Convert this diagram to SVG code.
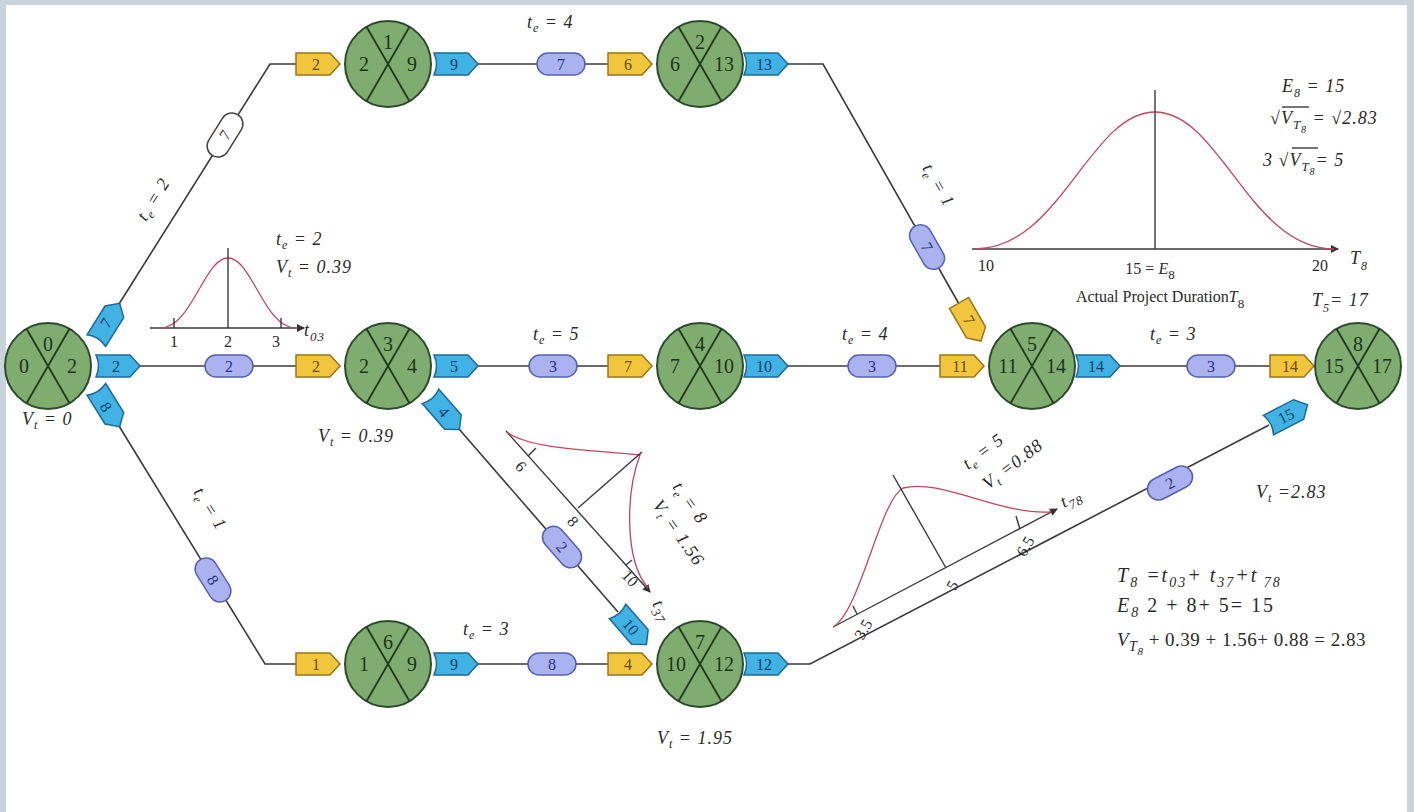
<svg xmlns="http://www.w3.org/2000/svg" xmlns:xlink="http://www.w3.org/1999/xlink" width="1414" height="812" viewBox="0 0 1414 812">
<defs>
<style>
.node circle{fill:#7fad6f;stroke:#2e4a2e;stroke-width:2}
.node line{stroke:#22381f;stroke-width:1.8}
.node text{font-family:"Liberation Serif",serif;font-size:20px;fill:#1d331c;text-anchor:middle}
.edge{fill:none;stroke:#3a3a3a;stroke-width:1.6}
.tagt{font-family:"Liberation Serif",serif;font-size:16px;text-anchor:middle;dominant-baseline:central}
.yt{fill:#6a4a00}.bt{fill:#0f3f6a}.pt{fill:#2a3080}
.lbl{font-family:"Liberation Serif",serif;font-size:18px;font-style:italic;fill:#2a2a2a;letter-spacing:1px}
.num{font-family:"Liberation Serif",serif;font-size:16px;fill:#2a2a2a;text-anchor:middle}
.curve{fill:none;stroke:#c0485a;stroke-width:1.3}
.axis{fill:none;stroke:#3a3a3a;stroke-width:1.4}
.eq{font-family:"Liberation Serif",serif;font-size:20px;font-style:italic;fill:#2a2a2a;letter-spacing:2px}
.eq2{font-family:"Liberation Serif",serif;font-size:19px;font-style:italic;fill:#2a2a2a;letter-spacing:0.5px}
</style>
<path id="ytag" d="M-22,-11 H12 L22,0 L12,11 H-22 Z" fill="#f1c63c" stroke="#9a7418" stroke-width="1.5"/>
<path id="btag" d="M-22,-11 H12 L22,0 L12,11 H-22 Q-17,0 -22,-11 Z" fill="#41b2e4" stroke="#1b6a9a" stroke-width="1.5"/>
<rect id="pill" x="-24" y="-11" width="48" height="22" rx="11" fill="#aab3ef" stroke="#5660b2" stroke-width="1.5"/>
<rect id="wpill" x="-24" y="-11" width="48" height="22" rx="11" fill="#ffffff" stroke="#444" stroke-width="1.5"/>
<marker id="arr" markerWidth="8" markerHeight="8" refX="7" refY="4" orient="auto" markerUnits="userSpaceOnUse"><path d="M0,0 L8,4 L0,8 Z" fill="#333"/></marker>
</defs>
<rect x="0" y="0" width="1414" height="812" fill="#c9d3db"/>
<rect x="6" y="5" width="1401" height="807" fill="#ffffff"/>

<g id="connectors">
<polyline class="edge" points="119,304 270,64 296,64"/>
<line class="edge" x1="140" y1="366" x2="296" y2="366"/>
<polyline class="edge" points="119,426 265,664 296,664"/>
<line class="edge" x1="478" y1="64" x2="608" y2="64"/>
<polyline class="edge" points="788,64 823,64 959,304"/>
<line class="edge" x1="478" y1="366" x2="608" y2="366"/>
<line class="edge" x1="788" y1="366" x2="940" y2="366"/>
<line class="edge" x1="1120" y1="366" x2="1270" y2="366"/>
<line class="edge" x1="459" y1="429" x2="618" y2="612"/>
<line class="edge" x1="478" y1="664" x2="608" y2="664"/>
<polyline class="edge" points="788,664 810,664 1269,425"/>

<!-- 0 -> 1 -->
<use href="#btag" transform="translate(108,322) rotate(-58)"/>
<text class="tagt bt" transform="translate(106,323) rotate(-58)">7</text>
<use href="#wpill" transform="translate(225,135) rotate(-58)"/>
<text class="tagt" fill="#444" transform="translate(225,135) rotate(-58)">7</text>
<use href="#ytag" transform="translate(318,64)"/>
<text class="tagt yt" x="316" y="64">2</text>
<!-- 0 -> 3 -->
<use href="#btag" transform="translate(118,366)"/>
<text class="tagt bt" x="116" y="366">2</text>
<use href="#pill" transform="translate(229,366)"/>
<text class="tagt pt" x="229" y="366">2</text>
<use href="#ytag" transform="translate(318,366)"/>
<text class="tagt yt" x="316" y="366">2</text>
<!-- 0 -> 6 -->
<use href="#btag" transform="translate(108,408) rotate(58)"/>
<text class="tagt bt" transform="translate(106,407) rotate(58)">8</text>
<use href="#pill" transform="translate(213,580) rotate(58)"/>
<text class="tagt pt" transform="translate(213,580) rotate(58)">8</text>
<use href="#ytag" transform="translate(318,664)"/>
<text class="tagt yt" x="316" y="664">1</text>
<!-- 1 -> 2 -->
<use href="#btag" transform="translate(456,64)"/>
<text class="tagt bt" x="454" y="64">9</text>
<use href="#pill" transform="translate(561,64)"/>
<text class="tagt pt" x="561" y="64">7</text>
<use href="#ytag" transform="translate(630,64)"/>
<text class="tagt yt" x="628" y="64">6</text>
<!-- 2 -> 5 -->
<use href="#btag" transform="translate(766,64)"/>
<text class="tagt bt" x="764" y="64">13</text>
<use href="#pill" transform="translate(927,247) rotate(60)"/>
<text class="tagt pt" transform="translate(927,247) rotate(60)">7</text>
<use href="#ytag" transform="translate(970,322) rotate(60)"/>
<text class="tagt yt" transform="translate(969,320) rotate(60)">7</text>
<!-- 3 -> 4 -->
<use href="#btag" transform="translate(456,366)"/>
<text class="tagt bt" x="454" y="366">5</text>
<use href="#pill" transform="translate(553,366)"/>
<text class="tagt pt" x="553" y="366">3</text>
<use href="#ytag" transform="translate(630,366)"/>
<text class="tagt yt" x="628" y="366">7</text>
<!-- 4 -> 5 -->
<use href="#btag" transform="translate(766,366)"/>
<text class="tagt bt" x="764" y="366">10</text>
<use href="#pill" transform="translate(872,366)"/>
<text class="tagt pt" x="872" y="366">3</text>
<use href="#ytag" transform="translate(962,366)"/>
<text class="tagt yt" x="960" y="366">11</text>
<!-- 5 -> 8 -->
<use href="#btag" transform="translate(1098,366)"/>
<text class="tagt bt" x="1096" y="366">14</text>
<use href="#pill" transform="translate(1211,366)"/>
<text class="tagt pt" x="1211" y="366">3</text>
<use href="#ytag" transform="translate(1292,366)"/>
<text class="tagt yt" x="1290" y="366">14</text>
<!-- 3 -> 7 -->
<use href="#btag" transform="translate(445,413) rotate(49)"/>
<text class="tagt bt" transform="translate(444,412) rotate(49)">4</text>
<use href="#pill" transform="translate(562,547) rotate(49)"/>
<text class="tagt pt" transform="translate(562,547) rotate(49)">2</text>
<use href="#btag" transform="translate(632,628) rotate(49)"/>
<text class="tagt bt" transform="translate(631,627) rotate(49)">10</text>
<!-- 6 -> 7 -->
<use href="#btag" transform="translate(456,664)"/>
<text class="tagt bt" x="454" y="664">9</text>
<use href="#pill" transform="translate(552,664)"/>
<text class="tagt pt" x="552" y="664">8</text>
<use href="#ytag" transform="translate(630,664)"/>
<text class="tagt yt" x="628" y="664">4</text>
<!-- 7 -> 8 -->
<use href="#btag" transform="translate(766,664)"/>
<text class="tagt bt" x="764" y="664">12</text>
<use href="#pill" transform="translate(1170,483) rotate(-27.5)"/>
<text class="tagt pt" transform="translate(1170,483) rotate(-27.5)">2</text>
<use href="#btag" transform="translate(1288,415) rotate(-27.5)"/>
<text class="tagt bt" transform="translate(1286,416) rotate(-27.5)">15</text>
</g>

<g id="node0" class="node"><circle cx="48" cy="366" r="43"/><line x1="26.5" y1="328.8" x2="69.5" y2="403.2"/><line x1="69.5" y1="328.8" x2="26.5" y2="403.2"/><text x="48" y="351">0</text><text x="24" y="373">0</text><text x="72" y="373">2</text></g>
<g id="node1" class="node"><circle cx="388" cy="64" r="43"/><line x1="366.5" y1="26.8" x2="409.5" y2="101.2"/><line x1="409.5" y1="26.8" x2="366.5" y2="101.2"/><text x="388" y="49">1</text><text x="364" y="71">2</text><text x="412" y="71">9</text></g>
<g id="node2" class="node"><circle cx="700" cy="64" r="43"/><line x1="678.5" y1="26.8" x2="721.5" y2="101.2"/><line x1="721.5" y1="26.8" x2="678.5" y2="101.2"/><text x="700" y="49">2</text><text x="675" y="71">6</text><text x="724" y="71">13</text></g>
<g id="node3" class="node"><circle cx="388" cy="366" r="43"/><line x1="366.5" y1="328.8" x2="409.5" y2="403.2"/><line x1="409.5" y1="328.8" x2="366.5" y2="403.2"/><text x="388" y="351">3</text><text x="364" y="373">2</text><text x="412" y="373">4</text></g>
<g id="node4" class="node"><circle cx="700" cy="366" r="43"/><line x1="678.5" y1="328.8" x2="721.5" y2="403.2"/><line x1="721.5" y1="328.8" x2="678.5" y2="403.2"/><text x="700" y="351">4</text><text x="675" y="373">7</text><text x="724" y="373">10</text></g>
<g id="node5" class="node"><circle cx="1032" cy="366" r="43"/><line x1="1010.5" y1="328.8" x2="1053.5" y2="403.2"/><line x1="1053.5" y1="328.8" x2="1010.5" y2="403.2"/><text x="1032" y="351">5</text><text x="1008" y="373">11</text><text x="1056" y="373">14</text></g>
<g id="node8" class="node"><circle cx="1358" cy="366" r="43"/><line x1="1336.5" y1="328.8" x2="1379.5" y2="403.2"/><line x1="1379.5" y1="328.8" x2="1336.5" y2="403.2"/><text x="1358" y="351">8</text><text x="1334" y="373">15</text><text x="1382" y="373">17</text></g>
<g id="node6" class="node"><circle cx="388" cy="664" r="43"/><line x1="366.5" y1="626.8" x2="409.5" y2="701.2"/><line x1="409.5" y1="626.8" x2="366.5" y2="701.2"/><text x="388" y="649">6</text><text x="364" y="671">1</text><text x="412" y="671">9</text></g>
<g id="node7" class="node"><circle cx="700" cy="664" r="43"/><line x1="678.5" y1="626.8" x2="721.5" y2="701.2"/><line x1="721.5" y1="626.8" x2="678.5" y2="701.2"/><text x="700" y="649">7</text><text x="676" y="671">10</text><text x="724" y="671">12</text></g>

<g id="labels">
<text class="lbl" transform="translate(146,222) rotate(-58)">t<tspan font-size="12" dy="4">e</tspan><tspan dy="-4"> = 2</tspan></text>
<text class="lbl" transform="translate(193,492) rotate(58)">t<tspan font-size="12" dy="4">e</tspan><tspan dy="-4"> = 1</tspan></text>
<text class="lbl" transform="translate(922,168) rotate(60)">t<tspan font-size="12" dy="4">e</tspan><tspan dy="-4"> = 1</tspan></text>
<text class="lbl" x="527" y="28">t<tspan font-size="12" dy="4">e</tspan><tspan dy="-4"> = 4</tspan></text>
<text class="lbl" x="533" y="340">t<tspan font-size="12" dy="4">e</tspan><tspan dy="-4"> = 5</tspan></text>
<text class="lbl" x="842" y="340">t<tspan font-size="12" dy="4">e</tspan><tspan dy="-4"> = 4</tspan></text>
<text class="lbl" x="1150" y="340">t<tspan font-size="12" dy="4">e</tspan><tspan dy="-4"> = 3</tspan></text>
<text class="lbl" x="463" y="635">t<tspan font-size="12" dy="4">e</tspan><tspan dy="-4"> = 3</tspan></text>
<text class="lbl" x="276" y="245">t<tspan font-size="12" dy="4">e</tspan><tspan dy="-4"> = 2</tspan></text>
<text class="lbl" x="276" y="273">V<tspan font-size="12" dy="4">t</tspan><tspan dy="-4"> = 0.39</tspan></text>
<text class="lbl" x="22" y="425">V<tspan font-size="12" dy="4">t</tspan><tspan dy="-4"> = 0</tspan></text>
<text class="lbl" x="318" y="442">V<tspan font-size="12" dy="4">t</tspan><tspan dy="-4"> = 0.39</tspan></text>
<text class="lbl" x="657" y="744">V<tspan font-size="12" dy="4">t</tspan><tspan dy="-4"> = 1.95</tspan></text>
<text class="lbl" x="1256" y="498">V<tspan font-size="12" dy="4">t</tspan><tspan dy="-4"> =2.83</tspan></text>
</g>

<g id="chart03">
<line class="axis" x1="150" y1="328" x2="304" y2="328" marker-end="url(#arr)"/>
<path class="curve" d="M160,328 C192,328 204,258 228,258 C252,258 264,328 296,328"/>
<line class="axis" x1="228" y1="328" x2="228" y2="248"/>
<line class="axis" x1="174" y1="328" x2="174" y2="318"/>
<line class="axis" x1="281" y1="328" x2="281" y2="318"/>
<text class="num" x="174" y="347">1</text><text class="num" x="228" y="347">2</text><text class="num" x="276" y="347">3</text>
<text class="lbl" x="304" y="336">t<tspan font-size="13" dy="5">03</tspan></text>
</g>

<g id="chart37">
<line class="axis" x1="506" y1="431" x2="650" y2="592" marker-end="url(#arr)"/>
<path class="curve" d="M507,432 C530,450 600,450 640,455 C626,492 624,560 648,588"/>
<line class="axis" x1="578" y1="508" x2="642" y2="452"/>
<line class="axis" x1="528" y1="456" x2="536" y2="448"/>
<line class="axis" x1="626" y1="565" x2="632" y2="560"/>
<text class="num" transform="translate(517,470) rotate(48)">6</text>
<text class="num" transform="translate(569,525) rotate(48)">8</text>
<text class="num" transform="translate(626,582) rotate(48)">10</text>
<text class="lbl" transform="translate(652,604) rotate(60)">t<tspan font-size="13" dy="5">37</tspan></text>
<text class="lbl" transform="translate(672,487) rotate(55)">t<tspan font-size="12" dy="4">e</tspan><tspan dy="-4"> = 8</tspan></text>
<text class="lbl" transform="translate(652,505) rotate(55)">V<tspan font-size="12" dy="4">t</tspan><tspan dy="-4"> = 1.56</tspan></text>
</g>

<g id="chart78">
<line class="axis" x1="833" y1="627" x2="1057" y2="509" marker-end="url(#arr)"/>
<path class="curve" d="M833,627 C860,612 880,500 903,488 C940,478 1000,515 1050,512"/>
<line class="axis" x1="946" y1="568" x2="893" y2="475"/>
<line class="axis" x1="857" y1="614" x2="853" y2="606"/>
<line class="axis" x1="1020" y1="529" x2="1016" y2="516"/>
<text class="num" transform="translate(868,632) rotate(-60)">3.5</text>
<text class="num" transform="translate(957,588) rotate(-60)">5</text>
<text class="num" transform="translate(1030,549) rotate(-60)">6.5</text>
<text class="lbl" transform="translate(1064,508) rotate(-28)">t<tspan font-size="13" dy="5">78</tspan></text>
<text class="lbl" transform="translate(968,470) rotate(-37)">t<tspan font-size="12" dy="4">e</tspan><tspan dy="-4"> = 5</tspan></text>
<text class="lbl" transform="translate(988,490) rotate(-37)">V<tspan font-size="12" dy="4">t</tspan><tspan dy="-4"> =0.88</tspan></text>
</g>

<g id="chartT8">
<line class="axis" x1="972" y1="249" x2="1338" y2="249" marker-end="url(#arr)"/>
<path class="curve" d="M975,249 C1060,249 1090,112 1155,112 C1220,112 1250,249 1334,249"/>
<line class="axis" x1="1155" y1="249" x2="1155" y2="90"/>
<text class="num" x="986" y="271" font-size="17">10</text>
<text class="num" x="1320" y="271" font-size="17">20</text>
<text class="num" x="1150" y="274" font-size="18">15 = <tspan font-style="italic">E</tspan><tspan font-size="13" dy="5">8</tspan></text>
<text class="lbl" x="1350" y="264">T<tspan font-size="12" dy="6">8</tspan></text>
<text class="num" x="1160" y="302" font-size="17">Actual Project Duration<tspan font-style="italic">T</tspan><tspan font-size="13" dy="6">8</tspan></text>
<text class="lbl" x="1312" y="306">T<tspan font-size="12" dy="6">5</tspan><tspan dy="-6">= 17</tspan></text>
<text class="lbl" x="1282" y="92">E<tspan font-size="12" dy="5">8</tspan><tspan dy="-5"> = 15</tspan></text>
<text class="lbl" x="1270" y="124">√V<tspan font-size="13" dy="5">T</tspan><tspan font-size="10" dy="4">8</tspan><tspan dy="-9"> = √2.83</tspan></text>
<line class="axis" x1="1282" y1="107" x2="1309" y2="107" stroke-width="1"/>
<text class="lbl" x="1263" y="166">3 √V<tspan font-size="13" dy="5">T</tspan><tspan font-size="10" dy="4">8</tspan><tspan dy="-9">= 5</tspan></text>
<line class="axis" x1="1292" y1="148" x2="1318" y2="148" stroke-width="1"/>
</g>

<g id="equations">
<text class="eq" x="1117" y="582">T<tspan font-size="14" dy="5">8</tspan><tspan dy="-5"> =t</tspan><tspan font-size="14" dy="5">03</tspan><tspan dy="-5">+ t</tspan><tspan font-size="14" dy="5">37</tspan><tspan dy="-5">+t</tspan><tspan font-size="14" dy="5"> 78</tspan></text>
<text class="eq" x="1117" y="612">E<tspan font-size="14" dy="5">8</tspan><tspan dy="-5" font-style="normal">   2 + 8+ 5=  15</tspan></text>
<text class="eq2" x="1117" y="646">V<tspan font-size="14" dy="5">T</tspan><tspan font-size="11" dy="4">8</tspan><tspan dy="-9" font-style="normal"> + 0.39 + 1.56+  0.88 = 2.83</tspan></text>
</g>
</svg>
